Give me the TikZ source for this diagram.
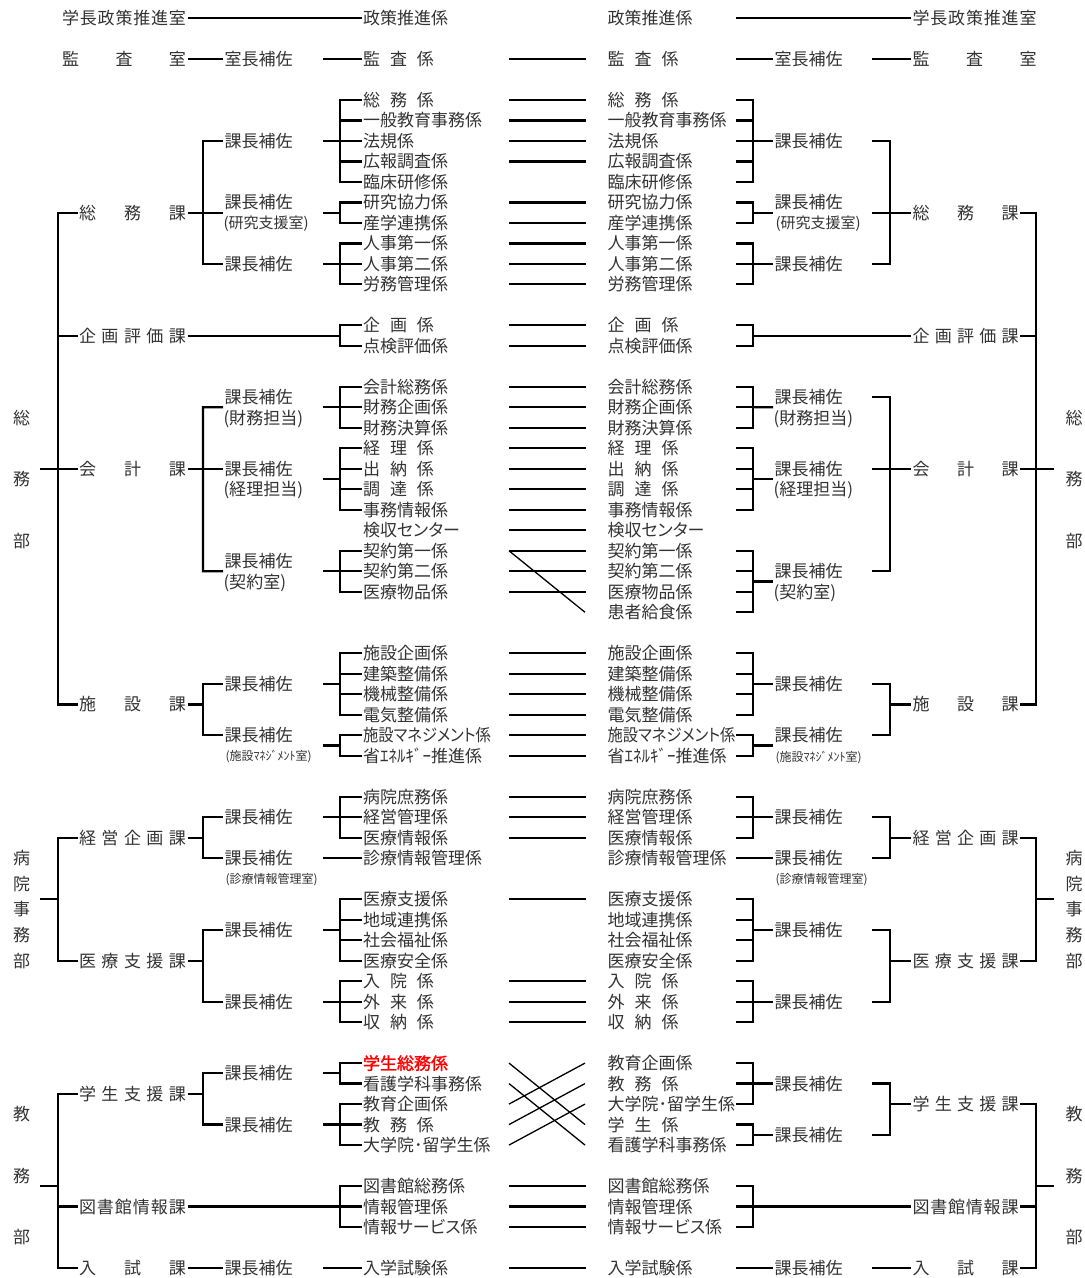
\documentclass[tikz,border=0pt]{standalone}
\usepackage{fontspec}
\usepackage{graphicx}
\newfontfamily\jp{Noto Sans CJK JP}
\newfontfamily\jpp[RawFeature=+palt]{Noto Sans CJK JP}
\newfontfamily\jpb[FakeBold=1.6]{Noto Sans CJK JP}
\usetikzlibrary{calc}
\definecolor{txt}{gray}{0.2}
\definecolor{redtx}{RGB}{255,0,0}
\def\spreadaux#1{\ifx#1\relax\else#1\expandafter\spreadnext\fi}
\def\spreadnext#1{\ifx#1\relax\else\hfill#1\expandafter\spreadnext\fi}
\newcommand\spread[2]{\hbox to #1{\spreadaux#2\relax}}
\newcommand\Lbr[3]{\draw[ln] (L#1.west) -- (340,#1) -- (340,#2) -- (L#2.west);
  \foreach \q in {#3}{\draw[ln] (340,\q) -- (L\q.west);}}
\newcommand\Lbrr[2]{\draw[ln] (L#1.west) -- (340,#1) -- (340,#2) -- (L#2.west);}
\newcommand\Rbr[3]{\draw[ln] (736,#1) -- (753,#1) -- (753,#2) -- (736,#2);
  \foreach \q in {#3}{\draw[ln] (736,\q) -- (753,\q);}}
\newcommand\Rbrr[2]{\draw[ln] (736,#1) -- (753,#1) -- (753,#2) -- (736,#2);}
\newcommand\mgmt{\scalebox{0.9}[1]{施設{\jpp マネジメント}係}}
\begin{document}
\begin{tikzpicture}[x=1pt,y=-20.4918pt,
 ln/.style={line width=2.2pt,draw=black},
 dg/.style={line width=1.3pt,draw=black},
 tx/.style={inner sep=0pt,outer sep=0pt,outer xsep=1.5pt,anchor=west,text height=15pt,text depth=2pt,font=\jp\fontsize{17pt}{17pt}\selectfont,text=txt},
 tc/.style={tx,anchor=center},
 sm/.style={tx,font=\jp\fontsize{15pt}{15pt}\selectfont,text height=13.2pt,text depth=1.8pt},
 xs/.style={tx,font=\jp\fontsize{12pt}{12pt}\selectfont,text height=10.6pt,text depth=1.4pt},
 hot/.style={tx,font=\jpb\fontsize{17pt}{17pt}\selectfont,text=redtx}]
\useasboundingbox (0,-0.8784) rectangle (1084,61.4879);
\fill[white] (0,-0.8784) rectangle (1084,61.4879);

% ---- division labels (vertical)
\node[tc] (Lb1) at (21.5,19.5) {総};
\node[tc] (Lb2) at (21.5,22.5) {務};
\node[tc] (Lb3) at (21.5,25.5) {部};
\node[tc] (Lh1) at (21.5,41) {病};
\node[tc] (Lh2) at (21.5,42.25) {院};
\node[tc] (Lh3) at (21.5,43.5) {事};
\node[tc] (Lh4) at (21.5,44.75) {務};
\node[tc] (Lh5) at (21.5,46) {部};
\node[tc] (Le1) at (21.5,53.5) {教};
\node[tc] (Le2) at (21.5,56.5) {務};
\node[tc] (Le3) at (21.5,59.5) {部};
\node[tc] (Rb1) at (1074,19.5) {総};
\node[tc] (Rb2) at (1074,22.5) {務};
\node[tc] (Rb3) at (1074,25.5) {部};
\node[tc] (Rh1) at (1074,41) {病};
\node[tc] (Rh2) at (1074,42.25) {院};
\node[tc] (Rh3) at (1074,43.5) {事};
\node[tc] (Rh4) at (1074,44.75) {務};
\node[tc] (Rh5) at (1074,46) {部};
\node[tc] (Re1) at (1074,53.5) {教};
\node[tc] (Re2) at (1074,56.5) {務};
\node[tc] (Re3) at (1074,59.5) {部};

% ---- section labels left
\node[tx] (LA0) at (60.5,0) {\spread{124pt}{学長政策推進室}};
\node[tx] (LA2) at (60.5,2) {\spread{124pt}{監査室}};
\node[tx] (LK1) at (77.5,9.5) {\spread{107pt}{総務課}};
\node[tx] (LK2) at (77.5,15.5) {\spread{107pt}{企画評価課}};
\node[tx] (LK3) at (77.5,22) {\spread{107pt}{会計課}};
\node[tx] (LK4) at (77.5,33.5) {\spread{107pt}{施設課}};
\node[tx] (LK5) at (77.5,40) {\spread{107pt}{経営企画課}};
\node[tx] (LK6) at (77.5,46) {\spread{107pt}{医療支援課}};
\node[tx] (LK7) at (77.5,52.5) {\spread{107pt}{学生支援課}};
\node[tx] (LK8) at (77.5,58) {\spread{107pt}{図書館情報課}};
\node[tx] (LK9) at (77.5,61) {\spread{107pt}{入試課}};
% ---- section labels right
\node[tx] (RA0) at (911,0) {\spread{124pt}{学長政策推進室}};
\node[tx] (RA2) at (911,2) {\spread{124pt}{監査室}};
\node[tx] (RK1) at (911,9.5) {\spread{106pt}{総務課}};
\node[tx] (RK2) at (911,15.5) {\spread{106pt}{企画評価課}};
\node[tx] (RK3) at (911,22) {\spread{106pt}{会計課}};
\node[tx] (RK4) at (911,33.5) {\spread{106pt}{施設課}};
\node[tx] (RK5) at (911,40) {\spread{106pt}{経営企画課}};
\node[tx] (RK6) at (911,46) {\spread{106pt}{医療支援課}};
\node[tx] (RK7) at (911,53) {\spread{106pt}{学生支援課}};
\node[tx] (RK8) at (911,58) {\spread{106pt}{図書館情報課}};
\node[tx] (RK9) at (911,61) {\spread{106pt}{入試課}};

% ---- assistant managers left
\node[tx] (LS0) at (223,2) {室長補佐};
\node[tx] (LS1) at (223,6) {課長補佐};
\node[tx] (LS2) at (223,9) {課長補佐};
\node[sm] (LS2b) at (222,10) {(研究支援室)};
\node[tx] (LS3) at (223,12) {課長補佐};
\node[tx] (LS4) at (223,18.5) {課長補佐};
\node[tx] (LS4b) at (222,19.5) {(財務担当)};
\node[tx] (LS5) at (223,22) {課長補佐};
\node[tx] (LS5b) at (222,23) {(経理担当)};
\node[tx] (LS6) at (223,26.5) {課長補佐};
\node[tx] (LS6b) at (222,27.5) {(契約室)};
\node[tx] (LS7) at (223,32.5) {課長補佐};
\node[tx] (LS8) at (223,35) {課長補佐};
\node[xs] (LS8b) at (224,36) {(施設ﾏﾈｼﾞﾒﾝﾄ室)};
\node[tx] (LS9) at (223,39) {課長補佐};
\node[tx] (LS10) at (223,41) {課長補佐};
\node[xs] (LS10b) at (224,42) {(診療情報管理室)};
\node[tx] (LS11) at (223,44.5) {課長補佐};
\node[tx] (LS12) at (223,48) {課長補佐};
\node[tx] (LS13) at (223,51.5) {課長補佐};
\node[tx] (LS14) at (223,54) {課長補佐};
\node[tx] (LS15) at (223,61) {課長補佐};
% ---- assistant managers right
\node[tx] (RS0) at (773,2) {室長補佐};
\node[tx] (RS1) at (773,6) {課長補佐};
\node[tx] (RS2) at (773,9) {課長補佐};
\node[sm] (RS2b) at (774,10) {(研究支援室)};
\node[tx] (RS3) at (773,12) {課長補佐};
\node[tx] (RS4) at (773,18.5) {課長補佐};
\node[tx] (RS4b) at (772,19.5) {(財務担当)};
\node[tx] (RS5) at (773,22) {課長補佐};
\node[tx] (RS5b) at (772,23) {(経理担当)};
\node[tx] (RS6) at (773,27) {課長補佐};
\node[tx] (RS6b) at (772,28) {(契約室)};
\node[tx] (RS7) at (773,32.5) {課長補佐};
\node[tx] (RS8) at (773,35) {課長補佐};
\node[xs] (RS8b) at (774,36.05) {(施設ﾏﾈｼﾞﾒﾝﾄ室)};
\node[tx] (RS9) at (773,39) {課長補佐};
\node[tx] (RS10) at (773,41) {課長補佐};
\node[xs] (RS10b) at (774,42) {(診療情報管理室)};
\node[tx] (RS11) at (773,44.5) {課長補佐};
\node[tx] (RS12) at (773,48) {課長補佐};
\node[tx] (RS13) at (773,52) {課長補佐};
\node[tx] (RS14) at (773,54.5) {課長補佐};
\node[tx] (RS15) at (773,61) {課長補佐};

% ---- units left
\node[tx] (L0) at (361.5,0) {政策推進係};
\node[tx] (L2) at (361.5,2) {\spread{71pt}{監査係}};
\node[tx] (L4) at (361.5,4) {\spread{71pt}{総務係}};
\node[tx] (L5) at (361.5,5) {一般教育事務係};
\node[tx] (L6) at (361.5,6) {法規係};
\node[tx] (L7) at (361.5,7) {広報調査係};
\node[tx] (L8) at (361.5,8) {臨床研修係};
\node[tx] (L9) at (361.5,9) {研究協力係};
\node[tx] (L10) at (361.5,10) {産学連携係};
\node[tx] (L11) at (361.5,11) {人事第一係};
\node[tx] (L12) at (361.5,12) {人事第二係};
\node[tx] (L13) at (361.5,13) {労務管理係};
\node[tx] (L15) at (361.5,15) {\spread{71pt}{企画係}};
\node[tx] (L16) at (361.5,16) {点検評価係};
\node[tx] (L18) at (361.5,18) {会計総務係};
\node[tx] (L19) at (361.5,19) {財務企画係};
\node[tx] (L20) at (361.5,20) {財務決算係};
\node[tx] (L21) at (361.5,21) {\spread{71pt}{経理係}};
\node[tx] (L22) at (361.5,22) {\spread{71pt}{出納係}};
\node[tx] (L23) at (361.5,23) {\spread{71pt}{調達係}};
\node[tx] (L24) at (361.5,24) {事務情報係};
\node[tx] (L25) at (361.5,25) {検収{\jpp センター}};
\node[tx] (L26) at (361.5,26) {契約第一係};
\node[tx] (L27) at (361.5,27) {契約第二係};
\node[tx] (L28) at (361.5,28) {医療物品係};
\node[tx] (L31) at (361.5,31) {施設企画係};
\node[tx] (L32) at (361.5,32) {建築整備係};
\node[tx] (L33) at (361.5,33) {機械整備係};
\node[tx] (L34) at (361.5,34) {電気整備係};
\node[tx] (L35) at (361.5,35) {\mgmt};
\node[tx] (L36) at (361.5,36) {省ｴﾈﾙｷﾞｰ推進係};
\node[tx] (L38) at (361.5,38) {病院庶務係};
\node[tx] (L39) at (361.5,39) {経営管理係};
\node[tx] (L40) at (361.5,40) {医療情報係};
\node[tx] (L41) at (361.5,41) {診療情報管理係};
\node[tx] (L43) at (361.5,43) {医療支援係};
\node[tx] (L44) at (361.5,44) {地域連携係};
\node[tx] (L45) at (361.5,45) {社会福祉係};
\node[tx] (L46) at (361.5,46) {医療安全係};
\node[tx] (L47) at (361.5,47) {\spread{71pt}{入院係}};
\node[tx] (L48) at (361.5,48) {\spread{71pt}{外来係}};
\node[tx] (L49) at (361.5,49) {\spread{71pt}{収納係}};
\node[hot] (L51) at (361.5,51) {学生総務係};
\node[tx] (L52) at (361.5,52) {看護学科事務係};
\node[tx] (L53) at (361.5,53) {教育企画係};
\node[tx] (L54) at (361.5,54) {\spread{71pt}{教務係}};
\node[tx] (L55) at (361.5,55) {大学院･留学生係};
\node[tx] (L57) at (361.5,57) {図書館総務係};
\node[tx] (L58) at (361.5,58) {情報管理係};
\node[tx] (L59) at (361.5,59) {情報{\jpp サービス}係};
\node[tx] (L61) at (361.5,61) {入学試験係};
% ---- units right
\node[tx] (R0) at (606,0) {政策推進係};
\node[tx] (R2) at (606,2) {\spread{71pt}{監査係}};
\node[tx] (R4) at (606,4) {\spread{71pt}{総務係}};
\node[tx] (R5) at (606,5) {一般教育事務係};
\node[tx] (R6) at (606,6) {法規係};
\node[tx] (R7) at (606,7) {広報調査係};
\node[tx] (R8) at (606,8) {臨床研修係};
\node[tx] (R9) at (606,9) {研究協力係};
\node[tx] (R10) at (606,10) {産学連携係};
\node[tx] (R11) at (606,11) {人事第一係};
\node[tx] (R12) at (606,12) {人事第二係};
\node[tx] (R13) at (606,13) {労務管理係};
\node[tx] (R15) at (606,15) {\spread{71pt}{企画係}};
\node[tx] (R16) at (606,16) {点検評価係};
\node[tx] (R18) at (606,18) {会計総務係};
\node[tx] (R19) at (606,19) {財務企画係};
\node[tx] (R20) at (606,20) {財務決算係};
\node[tx] (R21) at (606,21) {\spread{71pt}{経理係}};
\node[tx] (R22) at (606,22) {\spread{71pt}{出納係}};
\node[tx] (R23) at (606,23) {\spread{71pt}{調達係}};
\node[tx] (R24) at (606,24) {事務情報係};
\node[tx] (R25) at (606,25) {検収{\jpp センター}};
\node[tx] (R26) at (606,26) {契約第一係};
\node[tx] (R27) at (606,27) {契約第二係};
\node[tx] (R28) at (606,28) {医療物品係};
\node[tx] (R29) at (606,29) {患者給食係};
\node[tx] (R31) at (606,31) {施設企画係};
\node[tx] (R32) at (606,32) {建築整備係};
\node[tx] (R33) at (606,33) {機械整備係};
\node[tx] (R34) at (606,34) {電気整備係};
\node[tx] (R35) at (606,35) {\mgmt};
\node[tx] (R36) at (606,36) {省ｴﾈﾙｷﾞｰ推進係};
\node[tx] (R38) at (606,38) {病院庶務係};
\node[tx] (R39) at (606,39) {経営管理係};
\node[tx] (R40) at (606,40) {医療情報係};
\node[tx] (R41) at (606,41) {診療情報管理係};
\node[tx] (R43) at (606,43) {医療支援係};
\node[tx] (R44) at (606,44) {地域連携係};
\node[tx] (R45) at (606,45) {社会福祉係};
\node[tx] (R46) at (606,46) {医療安全係};
\node[tx] (R47) at (606,47) {\spread{71pt}{入院係}};
\node[tx] (R48) at (606,48) {\spread{71pt}{外来係}};
\node[tx] (R49) at (606,49) {\spread{71pt}{収納係}};
\node[tx] (R51) at (606,51) {教育企画係};
\node[tx] (R52) at (606,52) {\spread{71pt}{教務係}};
\node[tx] (R53) at (606,53) {大学院･留学生係};
\node[tx] (R54) at (606,54) {\spread{71pt}{学生係}};
\node[tx] (R55) at (606,55) {看護学科事務係};
\node[tx] (R57) at (606,57) {図書館総務係};
\node[tx] (R58) at (606,58) {情報管理係};
\node[tx] (R59) at (606,59) {情報{\jpp サービス}係};
\node[tx] (R61) at (606,61) {入学試験係};

% ---- division brackets
\draw[ln] (LK1.west) -- (58,9.5) -- (58,33.5) -- (LK4.west);
\draw[ln] (58,15.5) -- (LK2.west);
\draw[ln] (58,22) -- (LK3.west);
\draw[ln] (40,22) -- (58,22);
\draw[ln] (LK5.west) -- (58,40) -- (58,46) -- (LK6.west);
\draw[ln] (40,43) -- (58,43);
\draw[ln] (LK7.west) -- (58,52.5) -- (58,61) -- (LK9.west);
\draw[ln] (58,58) -- (LK8.west);
\draw[ln] (40,57) -- (58,57);
\draw[ln] (RK1.east) -- (1036,9.5) -- (1036,33.5) -- (RK4.east);
\draw[ln] (1036,15.5) -- (RK2.east);
\draw[ln] (1036,22) -- (RK3.east);
\draw[ln] (1036,22) -- (1054,22);
\draw[ln] (RK5.east) -- (1036,40) -- (1036,46) -- (RK6.east);
\draw[ln] (1036,43) -- (1054,43);
\draw[ln] (RK7.east) -- (1036,53) -- (1036,61) -- (RK9.east);
\draw[ln] (1036,58) -- (RK8.east);
\draw[ln] (1036,57) -- (1054,57);

% ---- top rows
\draw[ln] (LA0.east) -- (L0.west);
\draw[ln] (736,0) -- (RA0.west);
\draw[ln] (LA2.east) -- (LS0.west);
\draw[ln] (323,2) -- (L2.west);
\draw[ln] (736,2) -- (RS0.west);
\draw[ln] (872,2) -- (RA2.west);

% ---- 総務課
\draw[ln] (LS1.west) -- (203,6) -- (203,12) -- (LS3.west);
\draw[ln] (LK1.east) -- ($(LS2.west)+(0,0.5)$);
\Lbr{4}{8}{5,6,7}
\draw[ln] (323,6) -- (340,6);
\Lbrr{9}{10}
\draw[ln] (323,9.5) -- (340,9.5);
\Lbr{11}{13}{12}
\draw[ln] (323,12) -- (340,12);
\Rbr{4}{8}{5,6,7}
\draw[ln] (753,6) -- (RS1.west);
\Rbrr{9}{10}
\draw[ln] (753,9.5) -- ($(RS2.west)+(0,0.5)$);
\Rbr{11}{13}{12}
\draw[ln] (753,12) -- (RS3.west);
\draw[ln] (872,6) -- (890,6) -- (890,12) -- (872,12);
\draw[ln] (872,9.5) -- (RK1.west);

% ---- 企画評価課
\draw[ln] (LK2.east) -- (340,15.5);
\Lbrr{15}{16}
\Rbrr{15}{16}
\draw[ln] (753,15.5) -- (RK2.west);

% ---- 会計課
\draw[ln] ($(LS4.west)+(0,0.5)$) -- (203,19) -- (203,27) -- ($(LS6.west)+(0,0.5)$);
\draw[ln] (LK3.east) -- (LS5.west);
\Lbr{18}{20}{19}
\draw[ln] (323,19) -- (340,19);
\Lbr{21}{24}{22,23}
\draw[ln] (323,22.5) -- (340,22.5);
\Lbr{26}{28}{27}
\draw[ln] (323,27) -- (340,27);
\Rbr{18}{20}{19}
\draw[ln] (753,19) -- ($(RS4.west)+(0,0.5)$);
\Rbr{21}{24}{22,23}
\draw[ln] (753,22.5) -- ($(RS5.west)+(0,0.5)$);
\Rbr{26}{29}{27,28}
\draw[ln] (753,27.5) -- ($(RS6.west)+(0,0.5)$);
\draw[ln] (872,18.5) -- (890,18.5) -- (890,27) -- (872,27);
\draw[ln] (872,22) -- (RK3.west);

% ---- 施設課
\draw[ln] (LS7.west) -- (203,32.5) -- (203,35) -- (LS8.west);
\draw[ln] (LK4.east) -- (203,33.5);
\Lbr{31}{34}{32,33}
\draw[ln] (323,32.5) -- (340,32.5);
\Lbrr{35}{36}
\draw[ln] (323,35.5) -- (340,35.5);
\Rbr{31}{34}{32,33}
\draw[ln] (753,32.5) -- (RS7.west);
\Rbrr{35}{36}
\draw[ln] (753,35.5) -- ($(RS8.west)+(0,0.5)$);
\draw[ln] (872,32.5) -- (890,32.5) -- (890,35) -- (872,35);
\draw[ln] (890,33.5) -- (RK4.west);

% ---- 経営企画課
\draw[ln] (LS9.west) -- (203,39) -- (203,41) -- (LS10.west);
\draw[ln] (LK5.east) -- (203,40);
\Lbr{38}{40}{39}
\draw[ln] (323,39) -- (340,39);
\draw[ln] (323,41) -- (L41.west);
\Rbr{38}{40}{39}
\draw[ln] (753,39) -- (RS9.west);
\draw[ln] (736,41) -- (RS10.west);
\draw[ln] (872,39) -- (890,39) -- (890,41) -- (872,41);
\draw[ln] (890,40) -- (RK5.west);

% ---- 医療支援課
\draw[ln] (LS11.west) -- (203,44.5) -- (203,48) -- (LS12.west);
\draw[ln] (LK6.east) -- (203,46);
\Lbr{43}{46}{44,45}
\draw[ln] (323,44.5) -- (340,44.5);
\Lbr{47}{49}{48}
\draw[ln] (323,48) -- (340,48);
\Rbr{43}{46}{44,45}
\draw[ln] (753,44.5) -- (RS11.west);
\Rbr{47}{49}{48}
\draw[ln] (753,48) -- (RS12.west);
\draw[ln] (872,44.5) -- (890,44.5) -- (890,48) -- (872,48);
\draw[ln] (890,46) -- (RK6.west);

% ---- 学生支援課
\draw[ln] (LS13.west) -- (203,51.5) -- (203,54) -- (LS14.west);
\draw[ln] (LK7.east) -- (203,52.5);
\Lbrr{51}{52}
\draw[ln] (323,51.5) -- (340,51.5);
\Lbr{53}{55}{54}
\draw[ln] (323,54) -- (340,54);
\Rbr{51}{53}{52}
\draw[ln] (753,52) -- (RS13.west);
\Rbrr{54}{55}
\draw[ln] (753,54.5) -- (RS14.west);
\draw[ln] (872,52) -- (890,52) -- (890,54.5) -- (872,54.5);
\draw[ln] (890,53) -- (RK7.west);

% ---- 図書館情報課
\draw[ln] (LK8.east) -- (340,58);
\Lbr{57}{59}{58}
\Rbr{57}{59}{58}
\draw[ln] (753,58) -- (RK8.west);

% ---- 入試課
\draw[ln] (LK9.east) -- (LS15.west);
\draw[ln] (323,61) -- (L61.west);
\draw[ln] (736,61) -- (RS15.west);
\draw[ln] (872,61) -- (RK9.west);

% ---- correspondence lines (old -> new)
\foreach \q in {2,4,5,6,7,9,10,11,12,13,15,16,18,19,20,21,22,23,24,25,26,27,28,31,32,33,34,35,36,38,39,40,43,47,48,49,57,58,59,61}
  {\draw[ln] (509,\q) -- (586,\q);}
\draw[dg] (509,26) -- (585,29);
\draw[dg] (509,51) -- (585,54);
\draw[dg] (509,52) -- (585,55);
\draw[dg] (509,53) -- (585,51);
\draw[dg] (509,54) -- (585,52);
\draw[dg] (509,55) -- (585,53);
\end{tikzpicture}
\end{document}
